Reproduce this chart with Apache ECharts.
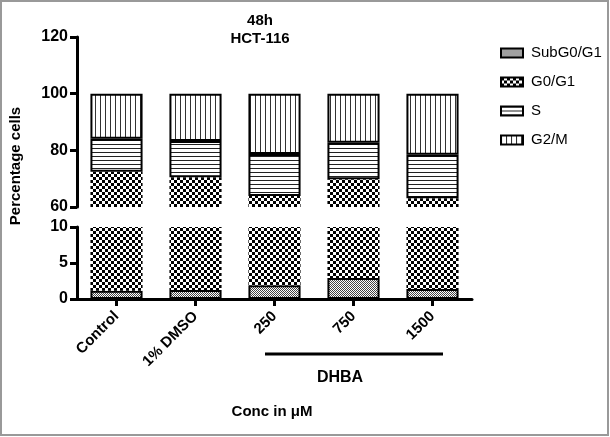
<!DOCTYPE html>
<html><head><meta charset="utf-8">
<script src="https://cdn.jsdelivr.net/npm/echarts@6/dist/echarts.min.js"></script>
<style>html,body{margin:0;padding:0;background:#fff}#c{width:610px;height:437px}</style>
</head><body><div id="c"></div>
<script>
// ---- data ----
var categories = ['Control', '1% DMSO', '250', '750', '1500'];
var subG0G1 = [1.15, 1.25, 1.9, 2.9, 1.4];
var g0g1   = [71.25, 69.25, 62.0, 66.9, 61.7];
var sPhase = [11.7, 12.8, 14.8, 12.9, 15.3];
var g2m    = [15.9, 16.7, 21.3, 17.3, 21.6];
var seriesNames = ['SubG0/G1', 'G0/G1', 'S', 'G2/M'];
var topTicks = [60, 80, 100, 120];
var bottomTicks = [0, 5, 10];

var FONT = 'Liberation Sans, Arial, sans-serif';

function makePattern(kind) {
  var c = document.createElement('canvas');
  var ctx = c.getContext('2d');
  if (kind === 'fine') {
    c.width = 2; c.height = 2;
    ctx.fillStyle = '#fff'; ctx.fillRect(0,0,2,2);
    ctx.fillStyle = '#444'; ctx.fillRect(0,0,1,1); ctx.fillRect(1,1,1,1);
  } else if (kind === 'checker') {
    c.width = 6; c.height = 6;
    ctx.fillStyle = '#fff'; ctx.fillRect(0,0,6,6);
    ctx.fillStyle = '#000'; ctx.fillRect(0,0,3,3); ctx.fillRect(3,3,3,3);
  } else if (kind === 'hlines') {
    c.width = 4; c.height = 4;
    ctx.fillStyle = '#fff'; ctx.fillRect(0,0,4,4);
    ctx.fillStyle = '#222'; ctx.fillRect(0,0,4,1);
  } else {
    c.width = 5; c.height = 5;
    ctx.fillStyle = '#fff'; ctx.fillRect(0,0,5,5);
    ctx.fillStyle = '#333'; ctx.fillRect(0,0,1,5);
  }
  return {image: c, repeat: 'repeat'};
}
var patterns = [makePattern('fine'), makePattern('checker'), makePattern('hlines'), makePattern('vlines')];
var values = [subG0G1, g0g1, sPhase, g2m];

var series = [];
[0, 1].forEach(function (g) {
  values.forEach(function (v, i) {
    series.push({
      name: seriesNames[i], type: 'bar', stack: g === 0 ? 'top' : 'bot',
      xAxisIndex: g, yAxisIndex: g, data: v, barCategoryGap: '34%',
      clip: true, silent: true,
      itemStyle: {color: patterns[i], borderColor: '#000', borderWidth: i === 1 ? 0 : 2}
    });
  });
});

var labelFont = {color: '#000', fontWeight: 'bold', fontSize: 16, fontFamily: FONT};
function yAxis(min, max, interval) {
  return {
    type: 'value', min: min, max: max, interval: interval,
    axisLine: {show: true, lineStyle: {color: '#000', width: 3}},
    axisTick: {show: true, length: 7, lineStyle: {color: '#000', width: 3}},
    axisLabel: Object.assign({margin: 9}, labelFont),
    splitLine: {show: false}
  };
}

var chart = echarts.init(document.getElementById('c'), null, {renderer: 'canvas'});
chart.setOption({
  backgroundColor: '#fff',
  animation: false,
  title: {
    text: '48h\nHCT-116', left: 255, top: 7, textAlign: 'center',
    textStyle: {fontSize: 15, fontWeight: 'bold', color: '#000', lineHeight: 18, fontFamily: FONT}
  },
  legend: {
    orient: 'vertical', left: 495, top: 40, itemWidth: 22, itemHeight: 9, itemGap: 13, icon: 'rect',
    data: seriesNames.map(function (n) { return {name: n, itemStyle: {borderWidth: 2, borderColor: '#000'}}; }),
    textStyle: {fontSize: 15, color: '#000', fontFamily: FONT, padding: [0,0,0,3], lineHeight: 16}
  },
  grid: [
    {left: 77, top: 37, width: 395, height: 170},
    {left: 77, top: 227, width: 395, height: 72}
  ],
  xAxis: [
    {type: 'category', gridIndex: 0, data: categories, show: false},
    {type: 'category', gridIndex: 1, data: categories,
     axisLine: {show: true, lineStyle: {color: '#000', width: 3}},
     axisTick: {show: true, alignWithLabel: true, length: 7, lineStyle: {color: '#000', width: 3}},
     axisLabel: Object.assign({}, labelFont, {rotate: 45, margin: 15, fontSize: 15})}
  ],
  yAxis: [
    Object.assign(yAxis(topTicks[0], topTicks[topTicks.length-1], 20), {gridIndex: 0}),
    Object.assign(yAxis(bottomTicks[0], bottomTicks[bottomTicks.length-1], 5), {gridIndex: 1})
  ],
  series: series,
  graphic: [
    {type: 'rect', shape: {x: 1, y: 1, width: 607, height: 434}, style: {fill: 'none', stroke: '#999', lineWidth: 2}, silent: true},
    {type: 'text', x: 16, y: 166, rotation: Math.PI / 2,
     style: {text: 'Percentage cells', fill: '#000', font: 'bold 15px ' + FONT, textAlign: 'center', textVerticalAlign: 'middle'}},
    {type: 'line', shape: {x1: 265, y1: 354, x2: 443, y2: 354}, style: {stroke: '#000', lineWidth: 3}},
    {type: 'text', x: 340, y: 378,
     style: {text: 'DHBA', fill: '#000', font: 'bold 16px ' + FONT, textAlign: 'center', textVerticalAlign: 'middle'}},
    {type: 'text', x: 272, y: 412,
     style: {text: 'Conc in μM', fill: '#000', font: 'bold 15px ' + FONT, textAlign: 'center', textVerticalAlign: 'middle'}}
  ]
});
</script></body></html>
